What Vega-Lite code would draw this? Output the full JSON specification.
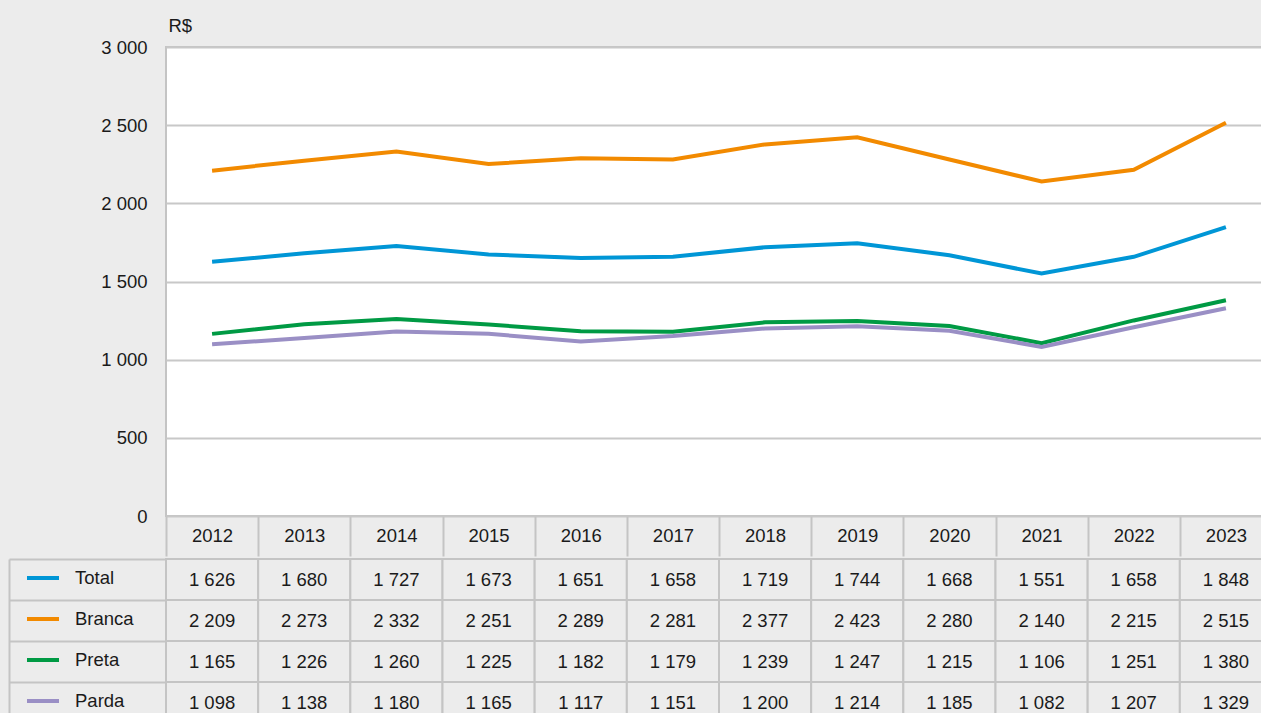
{
  "$schema": "https://vega.github.io/schema/vega-lite/v6.json",
  "background": "#ececec",
  "padding": {"left": 0, "top": 15, "right": 0, "bottom": 0},
  "spacing": 0,
  "config": {
    "font": "Liberation Sans",
    "locale": {"number": {"decimal": ",", "thousands": " ", "grouping": [3], "currency": ["R$ ", ""]}},
    "axis": {"labelFont": "Liberation Sans", "titleFont": "Liberation Sans"},
    "legend": {"labelFont": "Liberation Sans"}
  },
  "datasets": {
    "d": [
      {"series": "Total", "year": "2012", "value": 1626},
      {"series": "Total", "year": "2013", "value": 1680},
      {"series": "Total", "year": "2014", "value": 1727},
      {"series": "Total", "year": "2015", "value": 1673},
      {"series": "Total", "year": "2016", "value": 1651},
      {"series": "Total", "year": "2017", "value": 1658},
      {"series": "Total", "year": "2018", "value": 1719},
      {"series": "Total", "year": "2019", "value": 1744},
      {"series": "Total", "year": "2020", "value": 1668},
      {"series": "Total", "year": "2021", "value": 1551},
      {"series": "Total", "year": "2022", "value": 1658},
      {"series": "Total", "year": "2023", "value": 1848},
      {"series": "Branca", "year": "2012", "value": 2209},
      {"series": "Branca", "year": "2013", "value": 2273},
      {"series": "Branca", "year": "2014", "value": 2332},
      {"series": "Branca", "year": "2015", "value": 2251},
      {"series": "Branca", "year": "2016", "value": 2289},
      {"series": "Branca", "year": "2017", "value": 2281},
      {"series": "Branca", "year": "2018", "value": 2377},
      {"series": "Branca", "year": "2019", "value": 2423},
      {"series": "Branca", "year": "2020", "value": 2280},
      {"series": "Branca", "year": "2021", "value": 2140},
      {"series": "Branca", "year": "2022", "value": 2215},
      {"series": "Branca", "year": "2023", "value": 2515},
      {"series": "Preta", "year": "2012", "value": 1165},
      {"series": "Preta", "year": "2013", "value": 1226},
      {"series": "Preta", "year": "2014", "value": 1260},
      {"series": "Preta", "year": "2015", "value": 1225},
      {"series": "Preta", "year": "2016", "value": 1182},
      {"series": "Preta", "year": "2017", "value": 1179},
      {"series": "Preta", "year": "2018", "value": 1239},
      {"series": "Preta", "year": "2019", "value": 1247},
      {"series": "Preta", "year": "2020", "value": 1215},
      {"series": "Preta", "year": "2021", "value": 1106},
      {"series": "Preta", "year": "2022", "value": 1251},
      {"series": "Preta", "year": "2023", "value": 1380},
      {"series": "Parda", "year": "2012", "value": 1098},
      {"series": "Parda", "year": "2013", "value": 1138},
      {"series": "Parda", "year": "2014", "value": 1180},
      {"series": "Parda", "year": "2015", "value": 1165},
      {"series": "Parda", "year": "2016", "value": 1117},
      {"series": "Parda", "year": "2017", "value": 1151},
      {"series": "Parda", "year": "2018", "value": 1200},
      {"series": "Parda", "year": "2019", "value": 1214},
      {"series": "Parda", "year": "2020", "value": 1185},
      {"series": "Parda", "year": "2021", "value": 1082},
      {"series": "Parda", "year": "2022", "value": 1207},
      {"series": "Parda", "year": "2023", "value": 1329}
    ]
  },
  "resolve": {"scale": {"x": "independent", "y": "independent", "color": "shared"}, "legend": {"color": "independent"}},
  "vconcat": [
    {
      "width": 1106,
      "height": 469,
      "view": {"fill": "white", "stroke": "#c4c4c4", "strokeWidth": 2},
      "data": {"name": "d"},
      "mark": {"type": "line", "strokeWidth": 4},
      "encoding": {
        "x": {
          "field": "year", "type": "ordinal",
          "scale": {"type": "band", "paddingInner": 0, "paddingOuter": 0},
          "axis": {
            "title": null, "domain": false, "grid": false, "ticks": true,
            "tickBand": "extent", "tickSize": 40, "tickColor": "#c4c4c4", "tickWidth": 2,
            "labelFontSize": 18.5, "labelColor": "#1a1a1a", "labelAngle": 0, "labelPadding": -30
          }
        },
        "y": {
          "field": "value", "type": "quantitative",
          "scale": {"domain": [0, 3000], "nice": false},
          "axis": {
            "values": [0, 500, 1000, 1500, 2000, 2500, 3000],
            "format": ",d",
            "grid": true, "gridColor": "#c8c8c8", "gridWidth": 2,
            "domain": false, "ticks": false,
            "labelPadding": 19, "labelFontSize": 18.5, "labelColor": "#1a1a1a",
            "minExtent": 165,
            "title": "R$", "titleAngle": 0, "titleAlign": "left", "titleBaseline": "middle",
            "titleX": 2, "titleY": -22, "titleFontSize": 18.5, "titleFontWeight": "normal", "titleColor": "#1a1a1a"
          }
        },
        "color": {
          "field": "series", "type": "nominal",
          "scale": {"domain": ["Total", "Branca", "Preta", "Parda"], "range": ["#0096d6", "#f28a00", "#009a44", "#9a8fc5"]},
          "legend": null
        }
      }
    },
    {
      "width": 1106,
      "height": 164,
      "view": {"fill": null, "stroke": null},
      "data": {"name": "d"},
      "encoding": {
        "y": {
          "field": "series", "type": "nominal",
          "scale": {"domain": ["Total", "Branca", "Preta", "Parda"], "paddingInner": 0, "paddingOuter": 0},
          "axis": {
            "orient": "left", "offset": 157, "labels": false, "title": null, "grid": false,
            "ticks": true, "tickBand": "extent", "tickSize": -157, "tickColor": "#c4c4c4", "tickWidth": 2,
            "domain": true, "domainColor": "#c4c4c4", "domainWidth": 2
          }
        },
        "x": {"field": "year", "type": "ordinal", "scale": {"type": "band", "paddingInner": 0, "paddingOuter": 0}, "axis": null}
      },
      "layer": [
        {
          "mark": {"type": "line", "opacity": 0},
          "encoding": {
            "color": {
              "field": "series", "type": "nominal",
              "scale": {"domain": ["Total", "Branca", "Preta", "Parda"], "range": ["#0096d6", "#f28a00", "#009a44", "#9a8fc5"]},
              "legend": {
                "orient": "none", "legendX": -141, "legendY": 1, "title": null, "padding": 0,
                "symbolType": "stroke", "symbolSize": 1024, "symbolStrokeWidth": 4, "symbolOpacity": 1,
                "labelFontSize": 18.5, "labelOffset": 14, "labelColor": "#1a1a1a", "rowPadding": 13
              }
            }
          }
        },
        {
          "mark": {"type": "rect", "fill": "#ececec", "stroke": "#c4c4c4", "strokeWidth": 2}
        },
        {
          "mark": {"type": "text", "fontSize": 18.5, "color": "#1a1a1a"},
          "encoding": {
            "text": {"field": "value", "type": "quantitative", "format": ",d"}
          }
        }
      ]
    }
  ]
}
